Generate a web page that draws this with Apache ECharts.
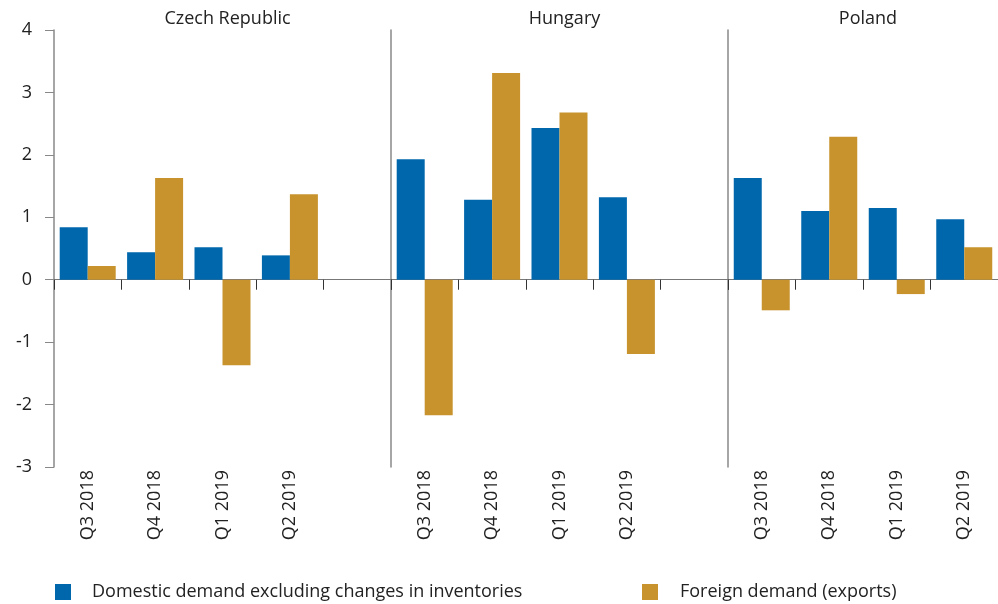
<!DOCTYPE html>
<html>
<head>
<meta charset="utf-8">
<script src="https://cdn.jsdelivr.net/npm/echarts@6/dist/echarts.min.js"></script>
<style>
  html, body { margin: 0; padding: 0; background: #fff; }
  #chart { width: 998px; height: 604px; }
</style>
</head>
<body>
<div id="chart"></div>
<script>
// 面板与类别
const PANELS = ["Czech Republic", "Hungary", "Poland"];
const QUARTERS = ["Q3 2018", "Q4 2018", "Q1 2019", "Q2 2019"];
const SERIES_NAMES = ["Domestic demand excluding changes in inventories", "Foreign demand (exports)"];

// 各国数值
const CZ_DOMESTIC = [0.84, 0.44, 0.52, 0.39];
const CZ_FOREIGN = [0.22, 1.63, -1.37, 1.37];
const HU_DOMESTIC = [1.93, 1.28, 2.43, 1.32];
const HU_FOREIGN = [-2.17, 3.31, 2.68, -1.19];
const PL_DOMESTIC = [1.63, 1.10, 1.15, 0.97];
const PL_FOREIGN = [-0.49, 2.29, -0.23, 0.52];

const Y_MIN = -3, Y_MAX = 4;

const BLUE = "#0067ac";
const GOLD = "#c8932d";
const FONT = "Open Sans";
const TEXT = "#222";
const FS = 18;

// 每个面板的位置；捷克和匈牙利后面留一个空位
const layout = [
  { left: 54, width: 337, slots: 5 },
  { left: 391, width: 337, slots: 5 },
  { left: 728, width: 270, slots: 4 },
];
const panelData = [
  [CZ_DOMESTIC, CZ_FOREIGN],
  [HU_DOMESTIC, HU_FOREIGN],
  [PL_DOMESTIC, PL_FOREIGN],
];

const grids = [], xAxes = [], yAxes = [], series = [], titles = [];

layout.forEach((p, i) => {
  const cats = QUARTERS.slice();
  while (cats.length < p.slots) cats.push("");
  const pad = (arr) => {
    const out = arr.slice();
    while (out.length < p.slots) out.push("-");
    return out;
  };

  grids.push({ left: p.left, width: p.width, top: 30, bottom: 137 });

  // 零线上的轴（刻度）
  xAxes.push({
    type: "category",
    gridIndex: i,
    data: cats,
    position: "bottom",
    axisLine: { onZero: true, lineStyle: { color: "#777", width: 1 } },
    axisTick: { show: true, length: 10, lineStyle: { color: "#333" } },
    axisLabel: { show: false },
    splitLine: { show: false },
  });
  // 底部的旋转标签
  xAxes.push({
    type: "category",
    gridIndex: i,
    data: cats,
    position: "bottom",
    axisLine: { show: false, onZero: false },
    axisTick: { show: false },
    axisLabel: {
      rotate: 90,
      margin: 3,
      color: TEXT,
      fontFamily: FONT,
      fontSize: FS,
      interval: 0,
    },
  });

  yAxes.push({
    type: "value",
    gridIndex: i,
    min: Y_MIN,
    max: Y_MAX,
    interval: 1,
    axisLine: { show: true, lineStyle: { color: "#888", width: 1.5 } },
    axisTick: { show: i === 0, length: 9, lineStyle: { color: "#888" } },
    axisLabel: {
      show: i === 0,
      color: TEXT,
      fontFamily: FONT,
      fontSize: FS,
      margin: 22,
    },
    splitLine: { show: false },
  });

  const [dom, fgn] = panelData[i];
  series.push({
    name: SERIES_NAMES[0],
    type: "bar",
    xAxisIndex: i * 2,
    yAxisIndex: i,
    barWidth: 28,
    barGap: "0%",
    itemStyle: { color: BLUE },
    data: pad(dom),
  });
  series.push({
    name: SERIES_NAMES[1],
    type: "bar",
    xAxisIndex: i * 2,
    yAxisIndex: i,
    barWidth: 28,
    barGap: "0%",
    itemStyle: { color: GOLD },
    data: pad(fgn),
  });

  titles.push({
    text: PANELS[i],
    left: p.left + p.width / 2,
    top: 5,
    textAlign: "center",
    textStyle: { color: TEXT, fontFamily: FONT, fontSize: FS, fontWeight: "normal" },
  });
});

const chart = echarts.init(document.getElementById("chart"));
chart.setOption({
  backgroundColor: "#fff",
  animation: false,
  title: titles,
  legend: [
    {
      data: [SERIES_NAMES[0]],
      left: 55,
      top: 583,
      padding: 0,
      itemWidth: 16,
      itemHeight: 16,
      icon: "rect",
      textStyle: { color: TEXT, fontFamily: FONT, fontSize: FS, padding: [0, 0, 0, 16] },
    },
    {
      data: [SERIES_NAMES[1]],
      left: 642,
      top: 583,
      padding: 0,
      itemWidth: 16,
      itemHeight: 16,
      icon: "rect",
      textStyle: { color: TEXT, fontFamily: FONT, fontSize: FS, padding: [0, 0, 0, 17] },
    },
  ],
  grid: grids,
  xAxis: xAxes,
  yAxis: yAxes,
  series: series,
});
window.addEventListener("resize", () => chart.resize());
</script>
</body>
</html>
